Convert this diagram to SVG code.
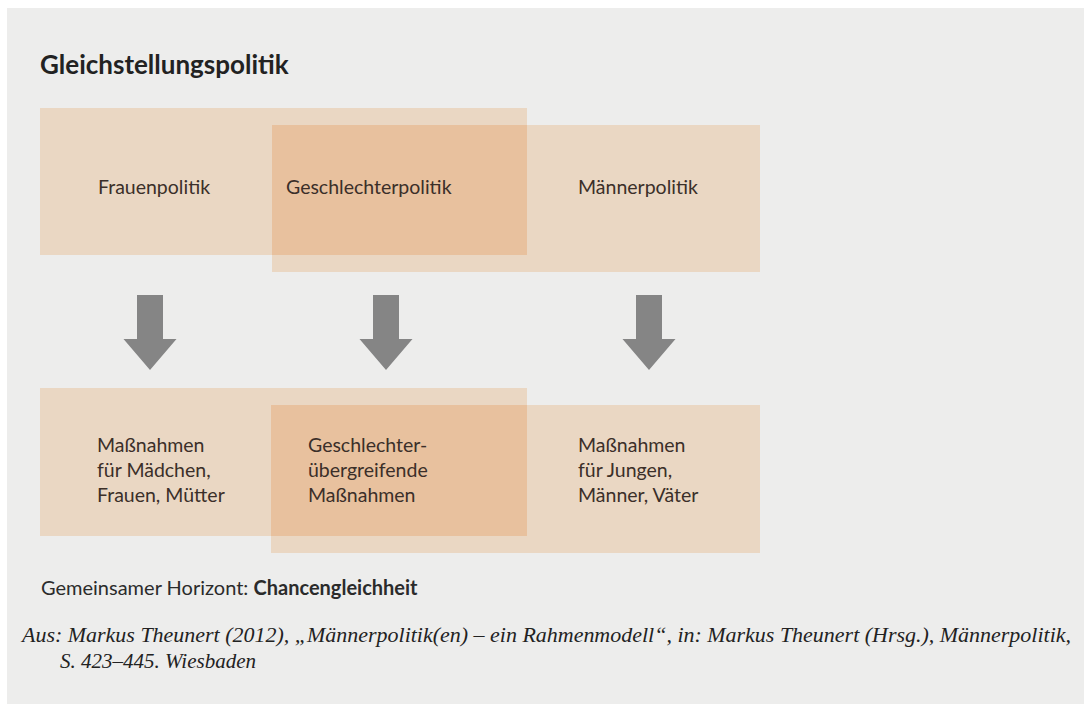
<svg xmlns="http://www.w3.org/2000/svg" width="1084" height="704" viewBox="0 0 1084 704">
  <defs>
    <style>
      .box { fill: #ead7c3; }
      .ovl { fill: #e8c19e; }
      .lbl { font-family: Lato, "Open Sans", sans-serif; font-size: 19.5px; fill: #3b2f29; }
      .title { font-family: Lato, "Open Sans", sans-serif; font-size: 26px; font-weight: bold; fill: #222222; }
      .foot { font-family: Lato, "Open Sans", sans-serif; font-size: 20px; fill: #2b2b2b; }
      .cite { font-family: "Liberation Serif", serif; font-style: italic; font-size: 20px; fill: #222222; }
      .arrow { fill: #858585; }
    </style>
    <path id="arrowShape" d="M-13,0 H13 V44 H26.5 L0,75 L-26.5,44 H-13 Z"/>
  </defs>

  <rect x="0" y="0" width="1084" height="704" fill="#ffffff"/>
  <rect x="7" y="8" width="1077" height="696" fill="#ededec"/>

  <text class="title" x="40" y="74">Gleichstellungspolitik</text>

  <g id="boxes-top">
    <g id="frauenpolitik">
      <rect class="box" x="40" y="108" width="487" height="147"/>
    </g>
    <g id="maennerpolitik">
      <rect class="box" x="272" y="125" width="488" height="147"/>
    </g>
    <g id="geschlechterpolitik">
      <rect class="ovl" x="272" y="125" width="255" height="130"/>
    </g>
    <text class="lbl" x="98" y="194">Frauenpolitik</text>
    <text class="lbl" x="286" y="194">Geschlechterpolitik</text>
    <text class="lbl" x="578" y="194">Männerpolitik</text>
  </g>

  <g id="connectors">
    <use href="#arrowShape" class="arrow" x="150" y="295"/>
    <use href="#arrowShape" class="arrow" x="386" y="295"/>
    <use href="#arrowShape" class="arrow" x="649" y="295"/>
  </g>

  <g id="boxes-bottom">
    <g id="massnahmen-frauen">
      <rect class="box" x="40" y="388" width="487" height="148"/>
    </g>
    <g id="massnahmen-maenner">
      <rect class="box" x="271" y="405" width="489" height="148"/>
    </g>
    <g id="massnahmen-uebergreifend">
      <rect class="ovl" x="271" y="405" width="256" height="131"/>
    </g>
    <text class="lbl" x="97" y="452">Maßnahmen<tspan x="97" y="477">für Mädchen,</tspan><tspan x="97" y="502">Frauen, Mütter</tspan></text>
    <text class="lbl" x="308" y="452">Geschlechter-<tspan x="308" y="477">übergreifende</tspan><tspan x="308" y="502">Maßnahmen</tspan></text>
    <text class="lbl" x="578" y="452">Maßnahmen<tspan x="578" y="477">für Jungen,</tspan><tspan x="578" y="502">Männer, Väter</tspan></text>
  </g>

  <text class="foot" x="41" y="595">Gemeinsamer Horizont: <tspan font-weight="bold">Chancengleichheit</tspan></text>

  <text class="cite" x="22" y="642" textLength="1049" lengthAdjust="spacingAndGlyphs">Aus: Markus Theunert (2012), „Männerpolitik(en) – ein Rahmenmodell“, in: Markus Theunert (Hrsg.), Männerpolitik,</text>
  <text class="cite" x="60" y="668" textLength="196" lengthAdjust="spacingAndGlyphs">S. 423–445. Wiesbaden</text>
</svg>
